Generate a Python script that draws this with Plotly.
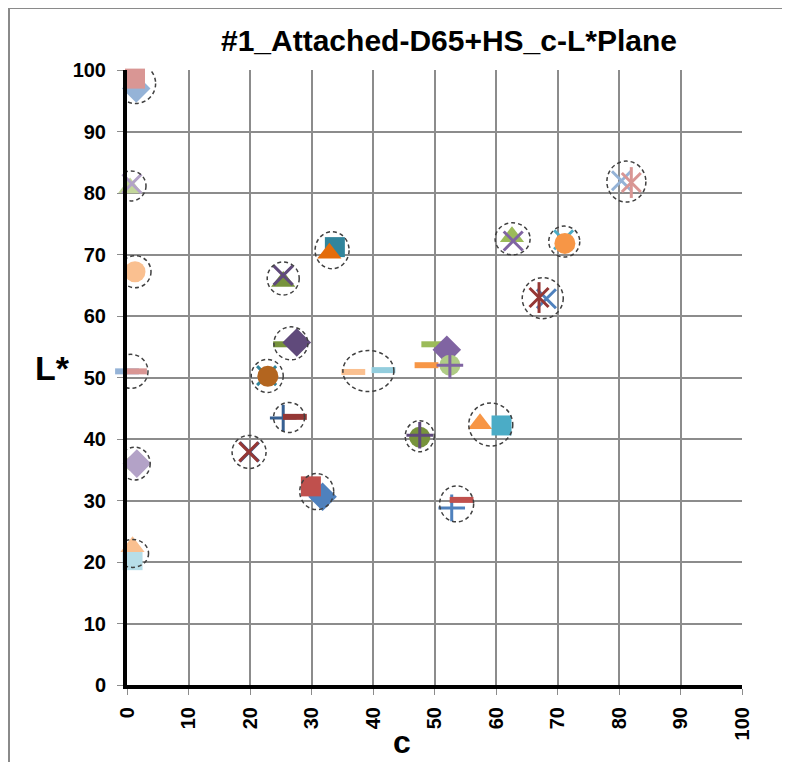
import plotly.graph_objects as go

# ---- datos (c, L*) ----
c_vals = [1.5, 1.3, 0.5, 0.8, 1.3, 0.0, 1.3, 0.9, 1.6, 0.9, 0.9,
          19.9, 19.8, 22.7, 22.9, 25.4, 27.3, 25.7, 27.6, 31.8, 29.9,
          25.4, 25.4, 33.8, 32.9, 36.8, 41.7, 49.8, 52.0, 48.7, 52.5, 52.5,
          47.6, 47.6, 57.4, 60.9, 52.8, 54.4, 62.6, 62.8, 71.0, 71.2,
          68.2, 67.0, 80.4, 82.0]
L_vals = [97.0, 98.6, 80.8, 81.5, 67.2, 51.0, 51.0, 36.0, 36.0, 20.3, 22.5,
          37.9, 37.9, 50.3, 50.2, 43.4, 43.6, 55.4, 55.7, 30.6, 32.3,
          65.6, 66.6, 71.2, 70.2, 50.9, 51.2, 55.4, 54.5, 52.0, 52.0, 52.0,
          40.3, 40.6, 42.5, 42.2, 28.8, 30.1, 72.9, 72.2, 72.4, 71.8,
          62.8, 63.0, 82.0, 81.7]

# estilos de cada punto
simbolos = ["diamond", "square", "triangle", "x", "circle", "dash", "dash", "circle", "diamond", "square", "triangle",
            "x", "x", "x", "circle", "plus", "dash", "dash", "diamond", "diamond", "square",
            "triangle", "x", "square", "triangle", "dash", "dash", "dash", "diamond", "dash", "circle", "plus",
            "circle", "plus", "triangle", "square", "plus", "dash", "triangle", "x", "x", "circle",
            "x", "star", "x", "star"]
colores = ["#95B3D7", "#D99694", "#C3D69B", "#B3A2C7", "#FAC090", "#95B3D7", "#D99694", "#C3D69B", "#B3A2C7", "#B7DEE8", "#FAC090",
           "#376092", "#953735", "#31859C", "#B3651F", "#376092", "#953735", "#77933C", "#604A7B", "#4F81BD", "#C0504D",
           "#77933C", "#604A7B", "#31859C", "#E46C0A", "#FAC090", "#93CDDD", "#9BBB59", "#8064A2", "#F79646", "#AFCB85", "#8064A2",
           "#77933C", "#604A7B", "#F79646", "#4BACC6", "#4F81BD", "#C0504D", "#9BBB59", "#8064A2", "#4BACC6", "#F79646",
           "#4F81BD", "#953735", "#95B3D7", "#D99694"]

# grupos rodeados con circulo punteado (indices, diametro px ancho/alto)
grupos = [([0, 1], 40, 40), ([2, 3], 30, 30), ([4], 32, 32), ([5, 6], 34, 34),
          ([7, 8], 31, 33), ([9, 10], 32, 28), ([11, 12], 34, 33), ([13, 14], 32, 33),
          ([15, 16], 31, 30), ([17, 18], 34, 33), ([19, 20], 34, 36), ([21, 22], 32, 33),
          ([23, 24], 34, 37), ([25, 26], 51, 41), ([32, 33], 29, 31), ([34, 35], 44, 43),
          ([36, 37], 34, 36), ([38, 39], 35, 32), ([40, 41], 31, 31), ([42, 43], 41, 41),
          ([44, 45], 39, 41)]

estilo = {
    "diamond": dict(symbol="diamond", size=22),
    "square": dict(symbol="square", size=20),
    "triangle": dict(symbol="triangle-up", size=21),
    "circle": dict(symbol="circle", size=21),
    "x": dict(symbol="x-thin-open", size=19, lw=3),
    "plus": dict(symbol="cross-thin-open", size=19, lw=3),
    "dash": dict(symbol="line-ew-open", size=17, lw=6),
}

fig = go.Figure()

def agrega(x, y, sym, size, col, lw=0):
    fig.add_trace(go.Scatter(
        x=[x], y=[y], mode="markers", cliponaxis=False, showlegend=False,
        marker=dict(symbol=sym, size=size, color=col,
                    line=dict(color=col, width=lw))))

for i, (x, y, s, col) in enumerate(zip(c_vals, L_vals, simbolos, colores)):
    if s == "star":
        agrega(x, y, "x-thin-open", 19, col, 3)
        agrega(x, y, "line-ns-open", 22, col, 3)
    else:
        e = estilo[s]
        size = 15 if i == 7 else e["size"]
        agrega(x, y, e["symbol"], size, col, e.get("lw", 0))

# circulos punteados
ppu = 615 / 100
for idx, w, h in grupos:
    cx = sum(c_vals[i] for i in idx) / len(idx)
    cy = sum(L_vals[i] for i in idx) / len(idx)
    rx = w / 2 / ppu
    ry = h / 2 / ppu
    fig.add_shape(type="circle", xref="x", yref="y",
                  x0=cx - rx, x1=cx + rx, y0=cy - ry, y1=cy + ry,
                  line=dict(color="#404040", width=1.5, dash="4px,3px"),
                  layer="above")

# marco exterior
fig.add_shape(type="rect", xref="paper", yref="paper",
              x0=(9 - 127) / 615, x1=1.2, y0=-0.2, y1=(685 - 8) / 615,
              line=dict(color="#8a8a8a", width=2), layer="below")

tick_font = dict(family="Liberation Sans, Arial", size=20, color="black", weight="bold")

fig.update_xaxes(range=[0, 100], dtick=10, tick0=0, showgrid=True,
                 gridcolor="#8c8c8c", gridwidth=1.5, zeroline=False,
                 showline=True, linecolor="black", linewidth=4,
                 ticks="outside", ticklen=6, tickcolor="#8c8c8c",
                 ticklabelstandoff=4,
                 tickangle=-90, tickfont=tick_font)
fig.update_yaxes(range=[0, 100], dtick=10, tick0=0, showgrid=True,
                 gridcolor="#8c8c8c", gridwidth=1.5, zeroline=False,
                 showline=True, linecolor="black", linewidth=4,
                 ticks="outside", ticklen=6, tickcolor="#8c8c8c",
                 ticklabelstandoff=7,
                 tickfont=tick_font)

fig.add_annotation(text="c", xref="paper", yref="paper",
                   x=(402 - 127) / 615, y=(685 - 742) / 615,
                   xanchor="center", yanchor="middle", showarrow=False,
                   font=dict(family="Liberation Sans, Arial", size=32, color="black", weight="bold"))
fig.add_annotation(text="L*", xref="paper", yref="paper",
                   x=(52 - 127) / 615, y=(685 - 368) / 615,
                   xanchor="center", yanchor="middle", showarrow=False,
                   font=dict(family="Liberation Sans, Arial", size=34, color="black", weight="bold"))

# la pagina tiene 8px de margen en el body
fig.update_layout(
    width=790, height=762,
    margin=dict(l=119, r=56, t=62, b=85),
    paper_bgcolor="white", plot_bgcolor="white",
    title=dict(text="#1_Attached-D65+HS_c-L*Plane",
               x=(449 - 8) / 790, xanchor="center", y=1 - (40 - 8) / 762, yanchor="middle",
               font=dict(family="Liberation Sans, Arial", size=30, color="black", weight="bold")),
)

fig.write_html("out.html")
